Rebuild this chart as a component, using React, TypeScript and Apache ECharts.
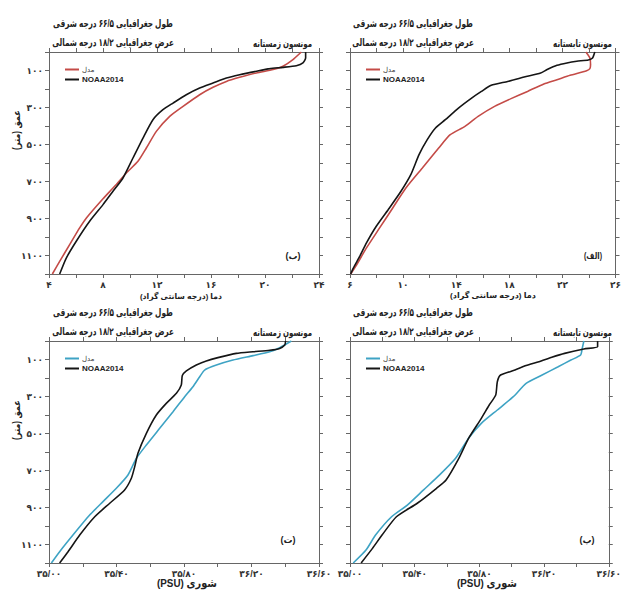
import React, { useEffect, useRef } from 'react';
import * as echarts from 'echarts';

// ---- data: [value, depth (m)] ----
const tempWinterModel = [[22.69,0],[22.07,41],[21.33,77],[20.6,95],[19.36,113],[18.12,137],[17.14,159],[16.15,191],[15.16,231],[13.93,294],[12.94,348],[11.95,429],[11.21,519],[10.59,591],[9.73,654],[8.86,726],[8.0,793],[6.77,897],[6.27,951],[5.53,1041],[4.79,1132],[4.25,1200]];
const tempWinterNoaa = [[23.01,0],[23.01,32],[22.81,59],[22.32,74],[21.33,83],[20.35,90],[19.36,104],[18.12,123],[17.14,141],[16.15,168],[15.16,195],[14.17,231],[13.19,276],[12.44,312],[11.7,366],[10.96,465],[10.22,573],[9.48,681],[8.74,753],[8.0,825],[7.01,915],[6.02,1023],[5.28,1114],[4.79,1200]];
const tempSummerModel = [[23.77,0],[24.07,32],[24.12,68],[24.07,90],[23.82,101],[22.58,126],[21.59,150],[20.6,173],[19.37,213],[18.13,252],[16.89,294],[15.65,348],[14.66,402],[13.55,447],[12.68,519],[11.45,627],[10.21,735],[9.22,843],[8.23,951],[7.24,1059],[6.5,1150],[6.05,1200]];
const tempSummerNoaa = [[24.44,0],[24.27,32],[23.95,43],[23.08,50],[22.34,59],[21.59,72],[20.85,95],[20.36,114],[19.12,135],[17.88,159],[16.64,180],[15.9,213],[15.16,249],[14.17,303],[13.18,366],[12.44,411],[11.82,474],[11.2,555],[10.58,663],[9.84,753],[8.97,843],[7.98,942],[7.24,1032],[6.74,1104],[6.25,1168],[6.05,1200]];
const salWinterModel = [[36.436,0],[36.367,36],[36.308,58],[36.209,79],[36.09,103],[35.992,130],[35.922,157],[35.893,193],[35.853,247],[35.804,301],[35.735,382],[35.656,472],[35.577,562],[35.518,634],[35.468,724],[35.399,796],[35.32,868],[35.241,941],[35.142,1049],[35.063,1139],[35.014,1200]];
const salWinterNoaa = [[36.402,0],[36.397,22],[36.367,40],[36.308,50],[36.209,58],[36.11,67],[36.001,90],[35.932,108],[35.873,130],[35.814,162],[35.79,187],[35.784,238],[35.755,283],[35.695,337],[35.636,400],[35.577,499],[35.527,607],[35.508,679],[35.488,742],[35.448,805],[35.36,877],[35.271,950],[35.182,1049],[35.113,1139],[35.063,1200]];
const salSummerModel = [[36.446,0],[36.436,40],[36.426,76],[36.366,103],[36.287,139],[36.188,184],[36.089,229],[36.01,301],[35.911,373],[35.812,445],[35.733,526],[35.653,634],[35.554,724],[35.455,805],[35.356,886],[35.257,950],[35.158,1049],[35.099,1130],[35.02,1200]];
const salSummerNoaa = [[36.531,0],[36.531,31],[36.446,43],[36.327,67],[36.248,88],[36.168,112],[36.089,133],[36.02,157],[35.931,184],[35.911,220],[35.901,292],[35.861,346],[35.812,418],[35.733,526],[35.673,634],[35.594,751],[35.535,796],[35.416,877],[35.287,950],[35.198,1049],[35.139,1121],[35.069,1200]];

const depthRange = [0, 1200];
const tempWinterRange = [4, 24];
const tempSummerRange = [6, 26];
const salRange = [35, 36.6];

const MODEL_T = 'مدل دما';
const MODEL_S = 'مدل شوری';
const NOAA = 'NOAA2014';
const RLM = '\u200F';

const FF = "'Liberation Sans', 'DejaVu Sans', sans-serif";
const AX = '#666';
const RED = '#c44b47';
const BLUE = '#3ea3c4';
const BLACK = '#151515';

const fa = (s: string) => s.replace(/[0-9]/g, (d) => '۰۱۲۳۴۵۶۷۸۹'[+d]);

const grids = [
  { left: 49, top: 52, width: 270, height: 222 },
  { left: 350, top: 52, width: 269, height: 222 },
  { left: 49, top: 341, width: 270, height: 222 },
  { left: 350, top: 341, width: 269, height: 222 },
];

function xPair(gi: number, range: number[], interval: number, fmt: (v: number) => string) {
  const base = {
    type: 'value', gridIndex: gi, min: range[0], max: range[1], interval,
    axisLine: { show: true, onZero: false, lineStyle: { color: AX, width: 1 } },
    axisTick: { show: true, inside: false, length: 4, lineStyle: { color: AX } },
    splitLine: { show: false },
  };
  return [
    { ...base, position: 'bottom', axisLabel: { formatter: fmt, margin: 6, fontSize: 9, fontWeight: 'bold', color: '#333', fontFamily: FF, showMinLabel: true, showMaxLabel: true, hideOverlap: false } },
    { ...base, position: 'top', axisLabel: { show: false } },
  ];
}
function yPair(gi: number, labels: boolean) {
  const base = {
    type: 'value', gridIndex: gi, min: depthRange[0], max: depthRange[1], interval: 100, inverse: true,
    axisLine: { show: true, onZero: false, lineStyle: { color: AX, width: 1 } },
    axisTick: { show: true, inside: false, length: 4, lineStyle: { color: AX } },
    splitLine: { show: false },
  };
  return [
    { ...base, position: 'left', axisLabel: { show: labels, formatter: (v: number) => (Math.round(v) % 200 === 100 ? fa(String(Math.round(v))) : ''), margin: 6, fontSize: 9, fontWeight: 'bold', color: '#333', fontFamily: FF } },
    { ...base, position: 'right', axisLabel: { show: false } },
  ];
}
const tempFmt = (start: number) => (v: number) => (Math.round(v - start) % 4 === 0 ? fa(String(Math.round(v))) : '');
const salFmt = (v: number) => {
  const k = Math.round((v - 35) / 0.2);
  return k % 2 === 0 ? fa(v.toFixed(2).replace('.', '/')) : '';
};

function line(name: string, data: number[][], color: string, idx: number) {
  return {
    type: 'line', name, data, xAxisIndex: idx * 2, yAxisIndex: idx * 2,
    showSymbol: false, symbol: 'none', smooth: 0.2,
    lineStyle: { color, width: 1.6 }, itemStyle: { color },
  };
}

function legend(left: number, top: number, model: string) {
  return {
    data: [model, NOAA], left, top, orient: 'vertical', icon: 'rect', itemWidth: 14, itemHeight: 2, itemGap: 1,
    selectedMode: false,
    formatter: (n: string) => (n === NOAA ? n : '{m|مدل}'),
    textStyle: {
      fontSize: 8, fontWeight: 'bold', color: '#222', fontFamily: FF, padding: [0, 0, 0, -2], lineHeight: 9,
      rich: { m: { fontSize: 7, fontWeight: 'normal', color: '#444', fontFamily: FF, lineHeight: 9 } },
    },
  };
}

const T1 = 'طول جغرافیایی ۶۶/۵ درجه شرقی';
const T2 = 'عرض جغرافیایی ۱۸/۲ درجه شمالی';
const WIN = 'مونسون زمستانه';
const SUM = 'مونسون تابستانه';

function measure(text: string, size: number) {
  const t = new (echarts.graphic as any).Text({ style: { text, fontSize: size, fontWeight: 'bold', fontFamily: FF } });
  return t.getBoundingRect().width || 1;
}

function txt(x: number, y: number, text: string, size: number, align = 'center', targetW = 0, extra: any = {}) {
  const sx = targetW ? targetW / measure(text, size) : 1;
  return {
    type: 'text', x, y, scaleX: sx, ...extra,
    style: { text, fontSize: size, fontWeight: 'bold', fontFamily: FF, fill: '#222', textAlign: align, textVerticalAlign: 'middle' },
  };
}

export default function App() {
  const ref = useRef<HTMLDivElement>(null);
  useEffect(() => {
    if (!ref.current) return;
    const chart = echarts.init(ref.current, null, { renderer: 'svg' });
    const graphic: any[] = [];
    const panels = [
      { dy: 0, cx: 113, rx: 312, mon: WIN },
      { dy: 0, cx: 413, rx: 612, mon: SUM },
      { dy: 289, cx: 113, rx: 312, mon: WIN },
      { dy: 289, cx: 413, rx: 612, mon: SUM },
    ];
    panels.forEach((p) => {
      graphic.push(txt(p.cx, 24 + p.dy, T1, 10.5, 'center', 120));
      graphic.push(txt(p.cx, 43 + p.dy, T2, 10.5, 'center', 122));
      graphic.push(txt(p.rx, 43 + p.dy, p.mon, 10.5, 'right', 59));
    });
    graphic.push(txt(17, 130, 'عمق (متر)' + RLM, 10, 'center', 40, { rotation: Math.PI / 2 }));
    graphic.push(txt(17, 420, 'عمق (متر)' + RLM, 10, 'center', 40, { rotation: Math.PI / 2 }));
    graphic.push(txt(181, 296, 'دما (درجه سانتی گراد)' + RLM, 8, 'center', 82));
    graphic.push(txt(493, 296, 'دما (درجه سانتی گراد)' + RLM, 8, 'center', 86));
    graphic.push(txt(187, 583, '\u202Bشوری (PSU)\u202C', 11, 'center', 60));
    graphic.push(txt(487, 583, '\u202Bشوری (PSU)\u202C', 11, 'center', 60));
    graphic.push(txt(293, 256, '(ب)', 9));
    graphic.push(txt(593, 256, '(الف)', 9, 'center', 18));
    graphic.push(txt(288, 540, '(ت)', 9));
    graphic.push(txt(587, 540, '(پ)', 9));

    chart.setOption({
      animation: false,
      backgroundColor: '#fff',
      grid: grids,
      xAxis: [
        ...xPair(0, tempWinterRange, 2, tempFmt(tempWinterRange[0])),
        ...xPair(1, tempSummerRange, 2, tempFmt(tempSummerRange[0])),
        ...xPair(2, salRange, 0.2, salFmt),
        ...xPair(3, salRange, 0.2, salFmt),
      ],
      yAxis: [...yPair(0, true), ...yPair(1, false), ...yPair(2, true), ...yPair(3, false)],
      legend: [legend(60, 60, MODEL_T), legend(361, 60, MODEL_T), legend(60, 349, MODEL_S), legend(361, 349, MODEL_S)],
      series: [
        line(MODEL_T, tempWinterModel, RED, 0),
        line(NOAA, tempWinterNoaa, BLACK, 0),
        line(MODEL_T, tempSummerModel, RED, 1),
        line(NOAA, tempSummerNoaa, BLACK, 1),
        line(MODEL_S, salWinterModel, BLUE, 2),
        line(NOAA, salWinterNoaa, BLACK, 2),
        line(MODEL_S, salSummerModel, BLUE, 3),
        line(NOAA, salSummerNoaa, BLACK, 3),
      ],
      graphic,
    });
    return () => chart.dispose();
  }, []);
  return <div ref={ref} style={{ position: 'absolute', left: 0, top: 0, width: 624, height: 590 }} />;
}
